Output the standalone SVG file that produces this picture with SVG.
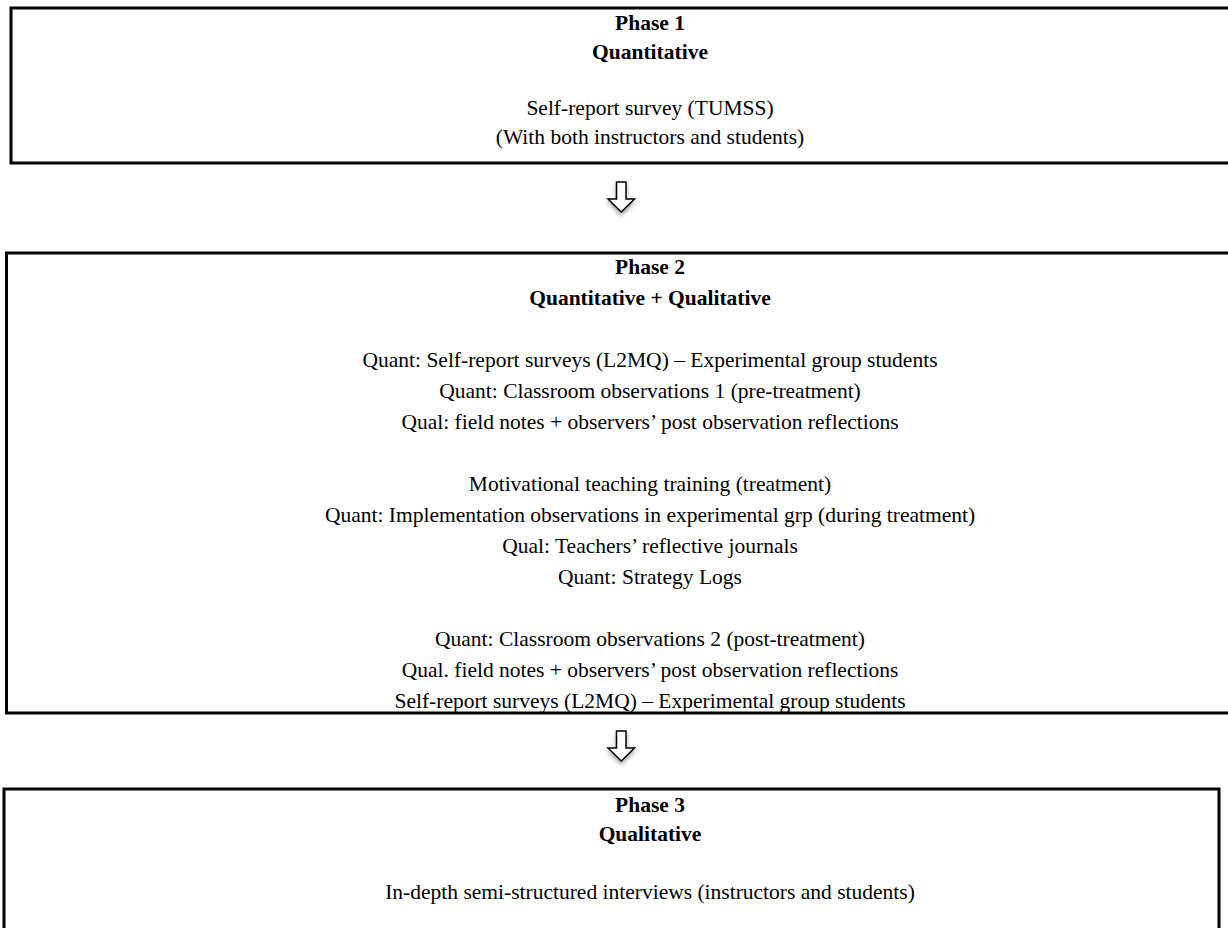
<svg xmlns="http://www.w3.org/2000/svg" width="1228" height="928" viewBox="0 0 1228 928">
<style>
.box{fill:#fff;stroke:#000;stroke-width:3}
text{font-family:"Liberation Serif","Times New Roman",serif;font-size:21.5px;fill:#000;text-anchor:middle}
.h{font-weight:bold}
.arrow{fill:#fff;stroke:#000;stroke-width:1.5;stroke-linejoin:miter}
</style>
<defs>
<filter id="sh" x="-50%" y="-50%" width="200%" height="200%">
<feDropShadow dx="0" dy="3" stdDeviation="2" flood-color="#000" flood-opacity="0.35"/>
</filter>
</defs>
<rect width="1228" height="928" fill="#fff"/>
<g id="phase1">
<rect class="box" x="11" y="8" width="1240" height="155"/>
<text class="h" x="650" y="30">Phase 1</text>
<text class="h" x="650" y="59">Quantitative</text>
<text x="650" y="115">Self-report survey (TUMSS)</text>
<text x="650" y="144">(With both instructors and students)</text>
</g>
<g id="phase2">
<rect class="box" x="6.5" y="253" width="1240" height="460"/>
<text class="h" x="650" y="274">Phase 2</text>
<text class="h" x="650" y="305">Quantitative + Qualitative</text>
<text x="650" y="367">Quant: Self-report surveys (L2MQ) – Experimental group students</text>
<text x="650" y="398">Quant: Classroom observations 1 (pre-treatment)</text>
<text x="650" y="429">Qual: field notes + observers’ post observation reflections</text>
<text x="650" y="491">Motivational teaching training (treatment)</text>
<text x="650" y="522">Quant: Implementation observations in experimental grp (during treatment)</text>
<text x="650" y="553">Qual: Teachers’ reflective journals</text>
<text x="650" y="584">Quant: Strategy Logs</text>
<text x="650" y="646">Quant: Classroom observations 2 (post-treatment)</text>
<text x="650" y="677">Qual. field notes + observers’ post observation reflections</text>
<text x="650" y="708">Self-report surveys (L2MQ) – Experimental group students</text>
</g>
<g id="phase3">
<rect class="box" x="4" y="789" width="1215" height="160"/>
<text class="h" x="650" y="812">Phase 3</text>
<text class="h" x="650" y="841">Qualitative</text>
<text x="650" y="899">In-depth semi-structured interviews (instructors and students)</text>
</g>
<g id="connectors">
<path class="arrow" filter="url(#sh)" d="M616.5,182 H626 V199 H634.5 L621.25,212 L608,199 H616.5 Z"/>
<path class="arrow" filter="url(#sh)" d="M616.5,731 H626 V748 H634.5 L621.25,761 L608,748 H616.5 Z"/>
</g>
</svg>
